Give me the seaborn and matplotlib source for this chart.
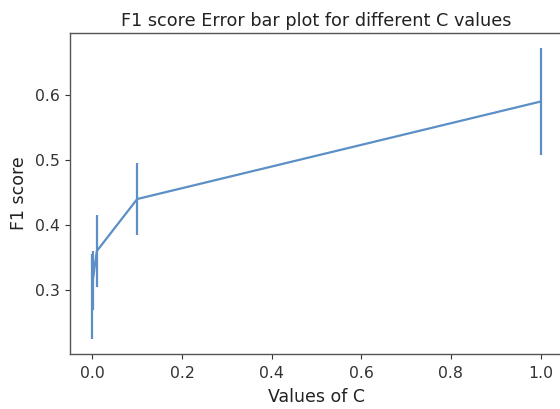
import matplotlib
matplotlib.use("Agg")
import matplotlib.pyplot as plt
import seaborn as sns
import pandas as pd

# Regularisation strengths and the cross-validated F1 scores
c_values = [0.0001, 0.001, 0.01, 0.1, 1.0]
f1_mean = [0.29, 0.315, 0.36, 0.44, 0.59]
f1_std = [0.066, 0.045, 0.056, 0.055, 0.083]

df = pd.DataFrame({"C": c_values, "F1": f1_mean, "std": f1_std})

sns.set_style("ticks")
plt.rcParams["font.family"] = ["DejaVu Sans"]

fig = plt.figure(figsize=(5.6, 4.09), dpi=100)
ax = fig.add_axes([0.125, 0.1345, 0.8804, 0.7848])

color = "#5b8fc6"
sns.lineplot(data=df, x="C", y="F1", ax=ax, color=color, linewidth=1.6)
ax.errorbar(df["C"], df["F1"], yerr=df["std"], fmt="none",
            ecolor=color, elinewidth=1.6)

ax.set_title("F1 score Error bar plot for different C values",
             fontsize=12.7, color="#222222", pad=5)
ax.set_xlabel("Values of C", fontsize=12.5, color="#222222", labelpad=5)
ax.set_ylabel("F1 score", fontsize=12.5, color="#222222", labelpad=5)
ax.set_xticks([0.0, 0.2, 0.4, 0.6, 0.8, 1.0])
ax.set_yticks([0.3, 0.4, 0.5, 0.6])
ax.tick_params(labelsize=11.3, colors="#333333")
ax.tick_params(axis="x", pad=5.5)
for s in ax.spines.values():
    s.set_color("#555555")
    s.set_linewidth(1.0)
ax.margins(x=0.05, y=0.05)

fig.savefig("out.png", dpi=100)
